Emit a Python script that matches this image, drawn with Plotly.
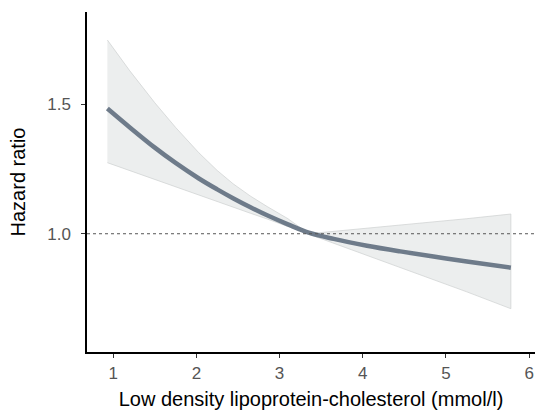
import plotly.graph_objects as go

# LDL-cholesterol (mmol/l)
ldl = [0.93, 1.2, 1.5, 1.75, 2.03, 2.25, 2.44, 2.65, 2.85, 3.1, 3.35, 3.65, 4.05, 4.45, 4.85, 5.25, 5.78]
# hazard ratio estimate
hr = [1.483, 1.410, 1.332, 1.273, 1.213, 1.171, 1.137, 1.102, 1.071, 1.036, 1.004,
      0.980, 0.954, 0.932, 0.912, 0.893, 0.869]
# confidence band
hr_upper = [1.747, 1.628, 1.505, 1.410, 1.312, 1.244, 1.193, 1.145, 1.105, 1.058, 1.000,
            1.009, 1.021, 1.033, 1.045, 1.058, 1.076]
hr_lower = [1.274, 1.243, 1.209, 1.181, 1.149, 1.124, 1.103, 1.079, 1.057, 1.028, 1.000,
            0.965, 0.918, 0.870, 0.823, 0.776, 0.711]

x_ticks = [1, 2, 3, 4, 5, 6]
y_ticks = [1.0, 1.5]
y_ticklabels = ["1.0", "1.5"]
ref_line = 1.0

fig = go.Figure()

band_x = ldl + ldl[::-1]
band_y = hr_upper + hr_lower[::-1]
fig.add_trace(go.Scatter(
    x=band_x, y=band_y, mode="lines", fill="toself",
    fillcolor="#eceeee", line=dict(color="#cdd0d0", width=0.7),
    hoverinfo="skip", showlegend=False))

fig.add_trace(go.Scatter(
    x=ldl, y=hr, mode="lines",
    line=dict(color="#6e7b8a", width=4.5, shape="spline", smoothing=1.0),
    showlegend=False))

fig.add_hline(y=ref_line, line=dict(color="#555555", width=1, dash="dot"))

fig.update_layout(
    width=535, height=416,
    margin=dict(l=87, r=0, t=12, b=64),
    paper_bgcolor="white", plot_bgcolor="white",
    font=dict(family="Liberation Sans, Arial, sans-serif", size=17, color="#555555"),
    xaxis=dict(
        range=[0.685, 6.07], tickvals=x_ticks, ticks="outside", ticklen=4,
        tickcolor="#333333", showline=True, linecolor="black", linewidth=1.5,
        showgrid=False, zeroline=False, ticklabelstandoff=1,
        tickfont=dict(size=17, color="#555555"),
        title=dict(text="Low density lipoprotein-cholesterol (mmol/l)",
                   font=dict(size=20, color="black"), standoff=10)),
    yaxis=dict(
        range=[0.544, 1.855], tickvals=y_ticks, ticktext=y_ticklabels,
        ticks="outside", ticklen=4, tickcolor="#333333",
        showline=True, linecolor="black", linewidth=1.5,
        showgrid=False, zeroline=False, ticklabelstandoff=7,
        tickfont=dict(size=17, color="#555555"),
        title=dict(text="Hazard ratio", font=dict(size=20, color="black"), standoff=16)),
)

fig.write_html("out.html")
